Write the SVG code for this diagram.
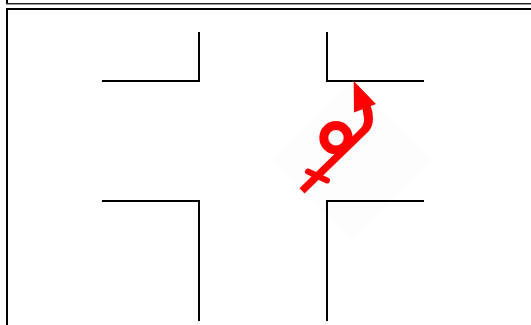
<svg xmlns="http://www.w3.org/2000/svg" width="531" height="325" viewBox="0 0 531 325">
<style>
.road{fill:none;stroke:#000;stroke-width:2}
.mark{fill:none;stroke:#f00}
.ring{stroke-width:9}
.bar{stroke-width:6;stroke-linecap:round}
</style>
<rect width="531" height="325" fill="#fff"/>
<path d="M7 0V4" fill="none" stroke="#000" stroke-width="2"/>
<path d="M6 3.500H531" fill="none" stroke="#222" stroke-width="1"/>
<path d="M6 4.500H531" fill="none" stroke="#999" stroke-width="1"/>
<path d="M7 325V9H531" fill="none" stroke="#000" stroke-width="2"/>
<polygon points="353,81 432,160 353,240 272,160" fill="#fdfdfd"/>
<g id="roads">
<path class="road" d="M102 81H199V32"/>
<path class="road" d="M327 32V81H424"/>
<path class="road" d="M102 201H199V321"/>
<path class="road" d="M327 321V201H424"/>
</g>
<g id="route">
<circle class="mark ring" cx="336" cy="137.700" r="12.200"/>
<path fill="#f00" d="M299.500 188.300L360.500 128.500Q364.500 124.500 364 118L362 106L370 104Q373 111 373 118Q373 126 369 131L304.500 193.500Z"/>
<path class="mark bar" d="M308 171.500L327 180.500"/>
<polygon points="353.700,81 376,104 354,112.500" fill="#f00"/>
</g>
</svg>
